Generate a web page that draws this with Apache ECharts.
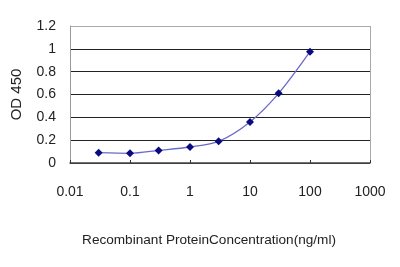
<!DOCTYPE html>
<html><head><meta charset="utf-8">
<script src="https://cdn.jsdelivr.net/npm/echarts@6/dist/echarts.min.js"></script>
<style>html,body{margin:0;padding:0;background:#fff}#c{width:400px;height:267px}</style>
</head><body><div id="c"></div>
<script>
const concentrations = [0.03, 0.1, 0.3, 1, 3, 10, 30, 100];
const odValues = [0.09, 0.085, 0.11, 0.14, 0.19, 0.36, 0.61, 0.975];
const yTicks = [0, 0.2, 0.4, 0.6, 0.8, 1, 1.2];
const xTicks = [0.01, 0.1, 1, 10, 100, 1000];

const chart = echarts.init(document.getElementById('c'));
chart.setOption({
  animation: false,
  grid: {left: 70, right: 30, top: 26, bottom: 104},
  xAxis: {
    type: 'log', logBase: 10, min: xTicks[0], max: xTicks[xTicks.length-1],
    name: 'Recombinant ProteinConcentration(ng/ml)', nameLocation: 'middle', nameGap: 70,
    nameTextStyle: {fontFamily: 'Liberation Sans', fontSize: 13.6, color: '#222', padding: [0, 22, 0, 0]},
    axisLine: {lineStyle: {color: '#444', width: 1.5}},
    axisTick: {show: true, inside: true, length: 3, lineStyle: {color: '#333'}},
    axisLabel: {fontFamily: 'Liberation Sans', fontSize: 14, color: '#222', margin: 22,
      formatter: v => String(v)},
    splitLine: {show: true, lineStyle: {color: ['rgba(0,0,0,0)','rgba(0,0,0,0)','rgba(0,0,0,0)','rgba(0,0,0,0)','rgba(0,0,0,0)','#aaa']}}
  },
  yAxis: {
    type: 'value', min: 0, max: 1.2, interval: 0.2,
    name: 'OD 450', nameLocation: 'middle', nameGap: 46, nameRotate: 90,
    nameTextStyle: {fontFamily: 'Liberation Sans', fontSize: 15, color: '#222'},
    axisLine: {show: true, lineStyle: {color: '#999', width: 1}},
    axisTick: {show: false},
    axisLabel: {fontFamily: 'Liberation Sans', fontSize: 14, color: '#222', margin: 14,
      formatter: v => String(Math.round(v*10)/10)},
    splitLine: {show: true, lineStyle: {color: ['#333','#222','#222','#222','#222','#222','#aaa'], width: 1.2}}
  },
  series: [{
    type: 'line',
    data: concentrations.map((c, i) => [c, odValues[i]]),
    smooth: 0.3,
    symbol: 'diamond', symbolSize: 8,
    lineStyle: {color: '#6a6ac8', width: 1.3},
    itemStyle: {color: '#0a0a80'}
  }]
});
</script></body></html>
